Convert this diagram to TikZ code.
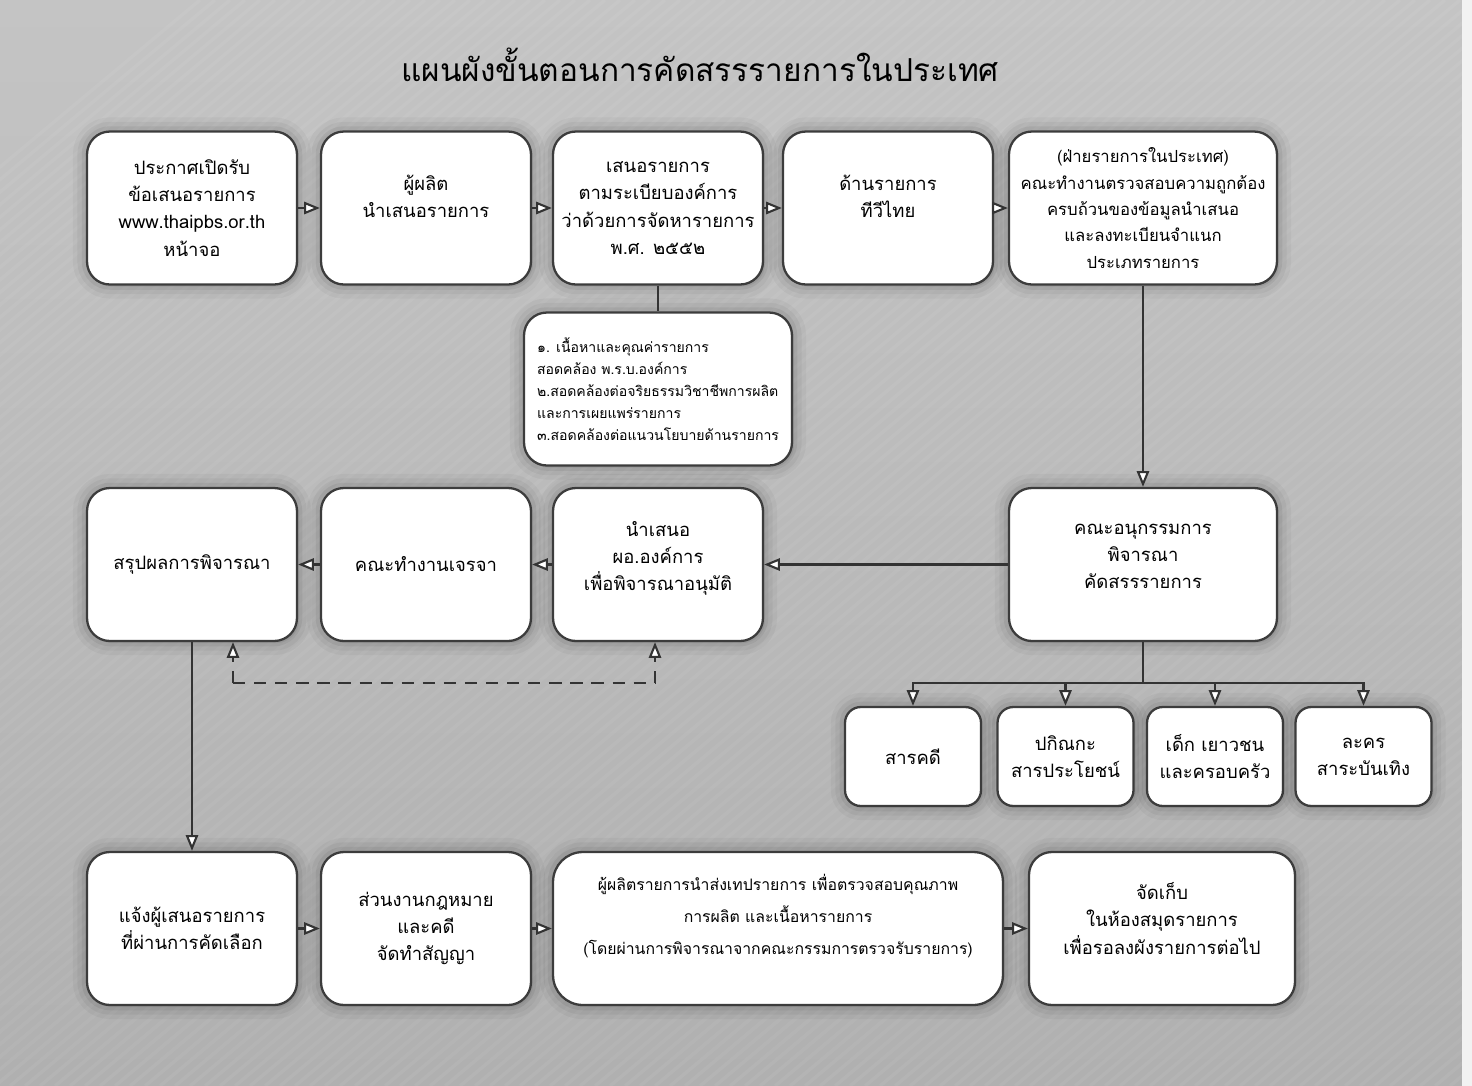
\documentclass[tikz,border=0pt]{standalone}
\usepackage{fontspec}
\setmainfont[Script=Thai]{Loma}
\usetikzlibrary{arrows.meta,shadows}

\definecolor{boxline}{HTML}{3C3C3C}
\definecolor{linegray}{HTML}{333333}
\definecolor{bgtop}{HTML}{C4C4C4}
\definecolor{bgbottom}{HTML}{B0B0B0}

\tikzset{
  box/.style={draw=boxline, line width=1.3pt, fill=white, rounded corners=13pt,
    align=center, inner sep=3pt,
    preaction={draw=black, opacity=.035, line width=16pt},
    preaction={draw=black, opacity=.045, line width=11pt},
    preaction={draw=black, opacity=.06, line width=6pt},
    drop shadow={shadow xshift=1.2pt, shadow yshift=-1.2pt, opacity=.3},
    font=\fontsize{10.5}{15.5}\selectfont},
  rowbox/.style={box, minimum width=4.2cm, minimum height=3.06cm},
  catbox/.style={box, rounded corners=9pt, minimum width=2.72cm, minimum height=1.98cm},
  arr/.style={draw=linegray, line width=1.2pt, -{Triangle[fill=white,length=9pt,width=7pt]}},
  plain/.style={draw=linegray, line width=1.2pt},
  dline/.style={arr, dash pattern=on 7pt off 5pt},
}

\begin{document}
\begin{tikzpicture}[x=0.02cm, y=-0.02cm]
    \useasboundingbox (0,0) rectangle (1472,1086);
    % background
    \fill[top color=bgtop, bottom color=bgbottom] (0,0) rectangle (1462,1086);
    \begin{scope}
        \clip (0,0) rectangle (1462,1086);
        \foreach \i in {-1100,-1085,...,1460}
            \draw[white, opacity=.05, line width=2pt] (\i,1086) -- ++(1300,-1086);
    \end{scope}
    \fill[gray!10] (1462,0) rectangle (1472,1086);

    \node[font=\fontsize{18}{22}\selectfont] (T) at (700,65) {แผนผังขั้นตอนการคัดสรรรายการในประเทศ};

    % top row
    \node[rowbox] (B1) at (192,208) {ประกาศเปิดรับ\\ข้อเสนอรายการ\\www.thaipbs.or.th\\หน้าจอ};
    \node[rowbox] (B2) at (426,208) {ผู้ผลิต\\นำเสนอรายการ\\[-2pt]};
    \node[rowbox] (B3) at (658,208) {เสนอรายการ\\ตามระเบียบองค์การ\\ว่าด้วยการจัดหารายการ\\พ.ศ. ๒๕๕๒};
    \node[rowbox] (B4) at (888,208) {ด้านรายการ\\ทีวีไทย\\[-2pt]};
    \node[rowbox, minimum width=5.36cm, font=\fontsize{9.5}{15}\selectfont] (B5) at (1143,208)
        {(ฝ่ายรายการในประเทศ)\\คณะทำงานตรวจสอบความถูกต้อง\\ครบถ้วนของข้อมูลนำเสนอ\\และลงทะเบียนจำแนก\\ประเภทรายการ};

    \node[rowbox, minimum width=5.36cm, align=left, font=\fontsize{8}{12.5}\selectfont] (K) at (658,389)
        {๑. เนื้อหาและคุณค่ารายการ\\สอดคล้อง พ.ร.บ.องค์การ\\๒.สอดคล้องต่อจริยธรรมวิชาชีพการผลิต\\และการเผยแพร่รายการ\\๓.สอดคล้องต่อแนวนโยบายด้านรายการ};

    % middle row
    \node[rowbox] (C1) at (192,564.5) {สรุปผลการพิจารณา};
    \node[rowbox] (C2) at (426,564.5) {คณะทำงานเจรจา};
    \node[rowbox] (C3) at (658,564.5) {นำเสนอ\\ผอ.องค์การ\\เพื่อพิจารณาอนุมัติ\\[-6pt]};
    \node[rowbox, minimum width=5.36cm] (C4) at (1143,564.5) {คณะอนุกรรมการ\\พิจารณา\\คัดสรรรายการ\\[-6pt]};

    % program types
    \node[catbox] (E1) at (913,756.5) {สารคดี};
    \node[catbox] (E2) at (1065.5,756.5) {ปกิณกะ\\สารประโยชน์};
    \node[catbox] (E3) at (1215,756.5) {เด็ก เยาวชน\\และครอบครัว};
    \node[catbox] (E4) at (1363.5,756.5) {ละคร\\สาระบันเทิง};

    % bottom row
    \node[rowbox] (D1) at (192,928.5) {แจ้งผู้เสนอรายการ\\ที่ผ่านการคัดเลือก};
    \node[rowbox] (D2) at (426,928.5) {ส่วนงานกฎหมาย\\และคดี\\จัดทำสัญญา};
    \node[rowbox, minimum width=9cm, rounded corners=17pt, font=\fontsize{9}{18}\selectfont] (D3) at (778,928.5)
        {ผู้ผลิตรายการนำส่งเทปรายการ เพื่อตรวจสอบคุณภาพ\\การผลิต และเนื้อหารายการ\\(โดยผ่านการพิจารณาจากคณะกรรมการตรวจรับรายการ)\\[-2pt]};
    \node[rowbox, minimum width=5.32cm] (D4) at (1162,928.5) {จัดเก็บ\\ในห้องสมุดรายการ\\เพื่อรอลงผังรายการต่อไป\\[-4pt]};

    \path [arr] (B1) edge (B2);
    \path [arr] (B2) edge (B3);
    \path [arr] (B3) edge (B4);
    \path [arr] (B4) edge (B5);
    \path [plain] (B3) edge (K);
    \path [arr] (B5) edge (C4);

    \path [arr] (C4) edge (C3);
    \path [arr] (C3) edge (C2);
    \path [arr] (C2) edge (C1);
    \path [arr] (C1) edge (D1);

    % fork to the four program types
    \coordinate (fork) at (1143,683);
    \draw[plain] (C4) -- (fork);
    \foreach \e in {E1,E2,E3,E4}
        \draw[arr] (fork) -| (\e.north);

    % dashed return path
    \coordinate (dl) at (233,683);
    \coordinate (dr) at (655,683);
    \draw[dline] (dl) -- (dl |- C1.south);
    \draw[dline] (dr) -- (dr |- C3.south);
    \draw[plain, dash pattern=on 7pt off 5pt] (dl) -- (dr);

    \path [arr] (D1) edge (D2);
    \path [arr] (D2) edge (D3);
    \path [arr] (D3) edge (D4);
\end{tikzpicture}
\end{document}
